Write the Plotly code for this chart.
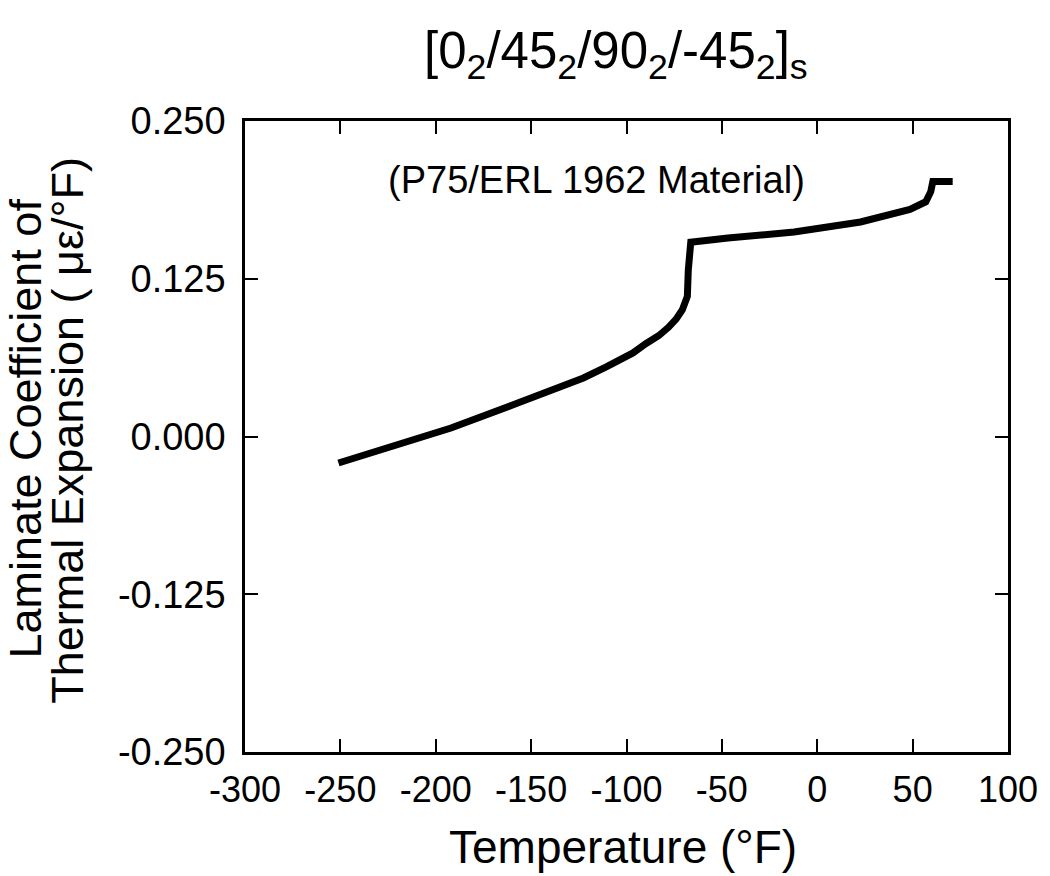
import plotly.graph_objects as go

# Data
temperature_F = [-251, -226, -192, -157, -137, -122.6, -110.6, -96.6, -89.9, -83, -78, -74, -70.7,
                 -68.1, -67.6, -66.3, -46.8, -12.1, 22.7, 48.6, 56.9, 59.5, 60.6, 71]
cte = [-0.021, -0.009, 0.0067, 0.0265, 0.0384, 0.0464, 0.0551, 0.0662, 0.0735, 0.080, 0.0865, 0.093, 0.1005,
       0.111, 0.132, 0.154, 0.1573, 0.162, 0.170, 0.180, 0.186, 0.194, 0.202, 0.202]

x_ticks = [-300, -250, -200, -150, -100, -50, 0, 50, 100]
x_tick_labels = ["-300", "-250", "-200", "-150", "-100", "-50", "0", "50", "100"]
y_ticks = [-0.250, -0.125, 0.000, 0.125, 0.250]
y_tick_labels = ["-0.250", "-0.125", "0.000", "0.125", "0.250"]

FONT = "Liberation Sans, Arial, Helvetica, sans-serif"

fig = go.Figure()
fig.add_trace(go.Scatter(x=temperature_F, y=cte, mode="lines",
                         line=dict(color="black", width=7), showlegend=False))

axis_common = dict(showline=True, linecolor="black", linewidth=2.5, mirror="ticks",
                   ticks="inside", ticklen=13, tickwidth=1.5, tickcolor="black",
                   showgrid=False, zeroline=False)

fig.update_xaxes(range=[-300, 100], tickvals=x_ticks, ticktext=x_tick_labels,
                 ticklabelstandoff=4,
                 tickfont=dict(family=FONT, size=36, color="black"), **axis_common)
fig.update_yaxes(range=[-0.25, 0.25], tickvals=y_ticks, ticktext=y_tick_labels,
                 ticklabelstandoff=9,
                 tickfont=dict(family=FONT, size=38, color="black"), **axis_common)

fig.update_layout(
    width=1050, height=876,
    margin=dict(l=245, r=34, t=121, b=124),
    paper_bgcolor="white", plot_bgcolor="white",
    font=dict(family=FONT, color="black"),
    annotations=[
        dict(text="[0<sub>2</sub>/45<sub>2</sub>/90<sub>2</sub>/-45<sub>2</sub>]<sub>s</sub>",
             xref="paper", yref="paper", x=0.486, y=1.106, xanchor="center", yanchor="middle",
             showarrow=False, font=dict(family=FONT, size=51, color="black")),
        dict(text="(P75/ERL 1962 Material)", xref="x", yref="y", x=-115.8, y=0.203,
             xanchor="center", yanchor="middle", showarrow=False,
             font=dict(family=FONT, size=38, color="black")),
        dict(text="Temperature (°F)", xref="paper", yref="paper", x=0.495, y=-0.1506,
             xanchor="center", yanchor="middle", showarrow=False,
             font=dict(family=FONT, size=46, color="black")),
        dict(text="Laminate Coefficient of", xref="paper", yref="paper", x=-0.288, y=0.513,
             xanchor="center", yanchor="middle", textangle=-90, showarrow=False,
             font=dict(family=FONT, size=45, color="black")),
        dict(text="Thermal Expansion ( με/°F)", xref="paper", yref="paper", x=-0.2326, y=0.51,
             xanchor="center", yanchor="middle", textangle=-90, showarrow=False,
             font=dict(family=FONT, size=45, color="black")),
    ],
)

fig.write_html("out.html")
